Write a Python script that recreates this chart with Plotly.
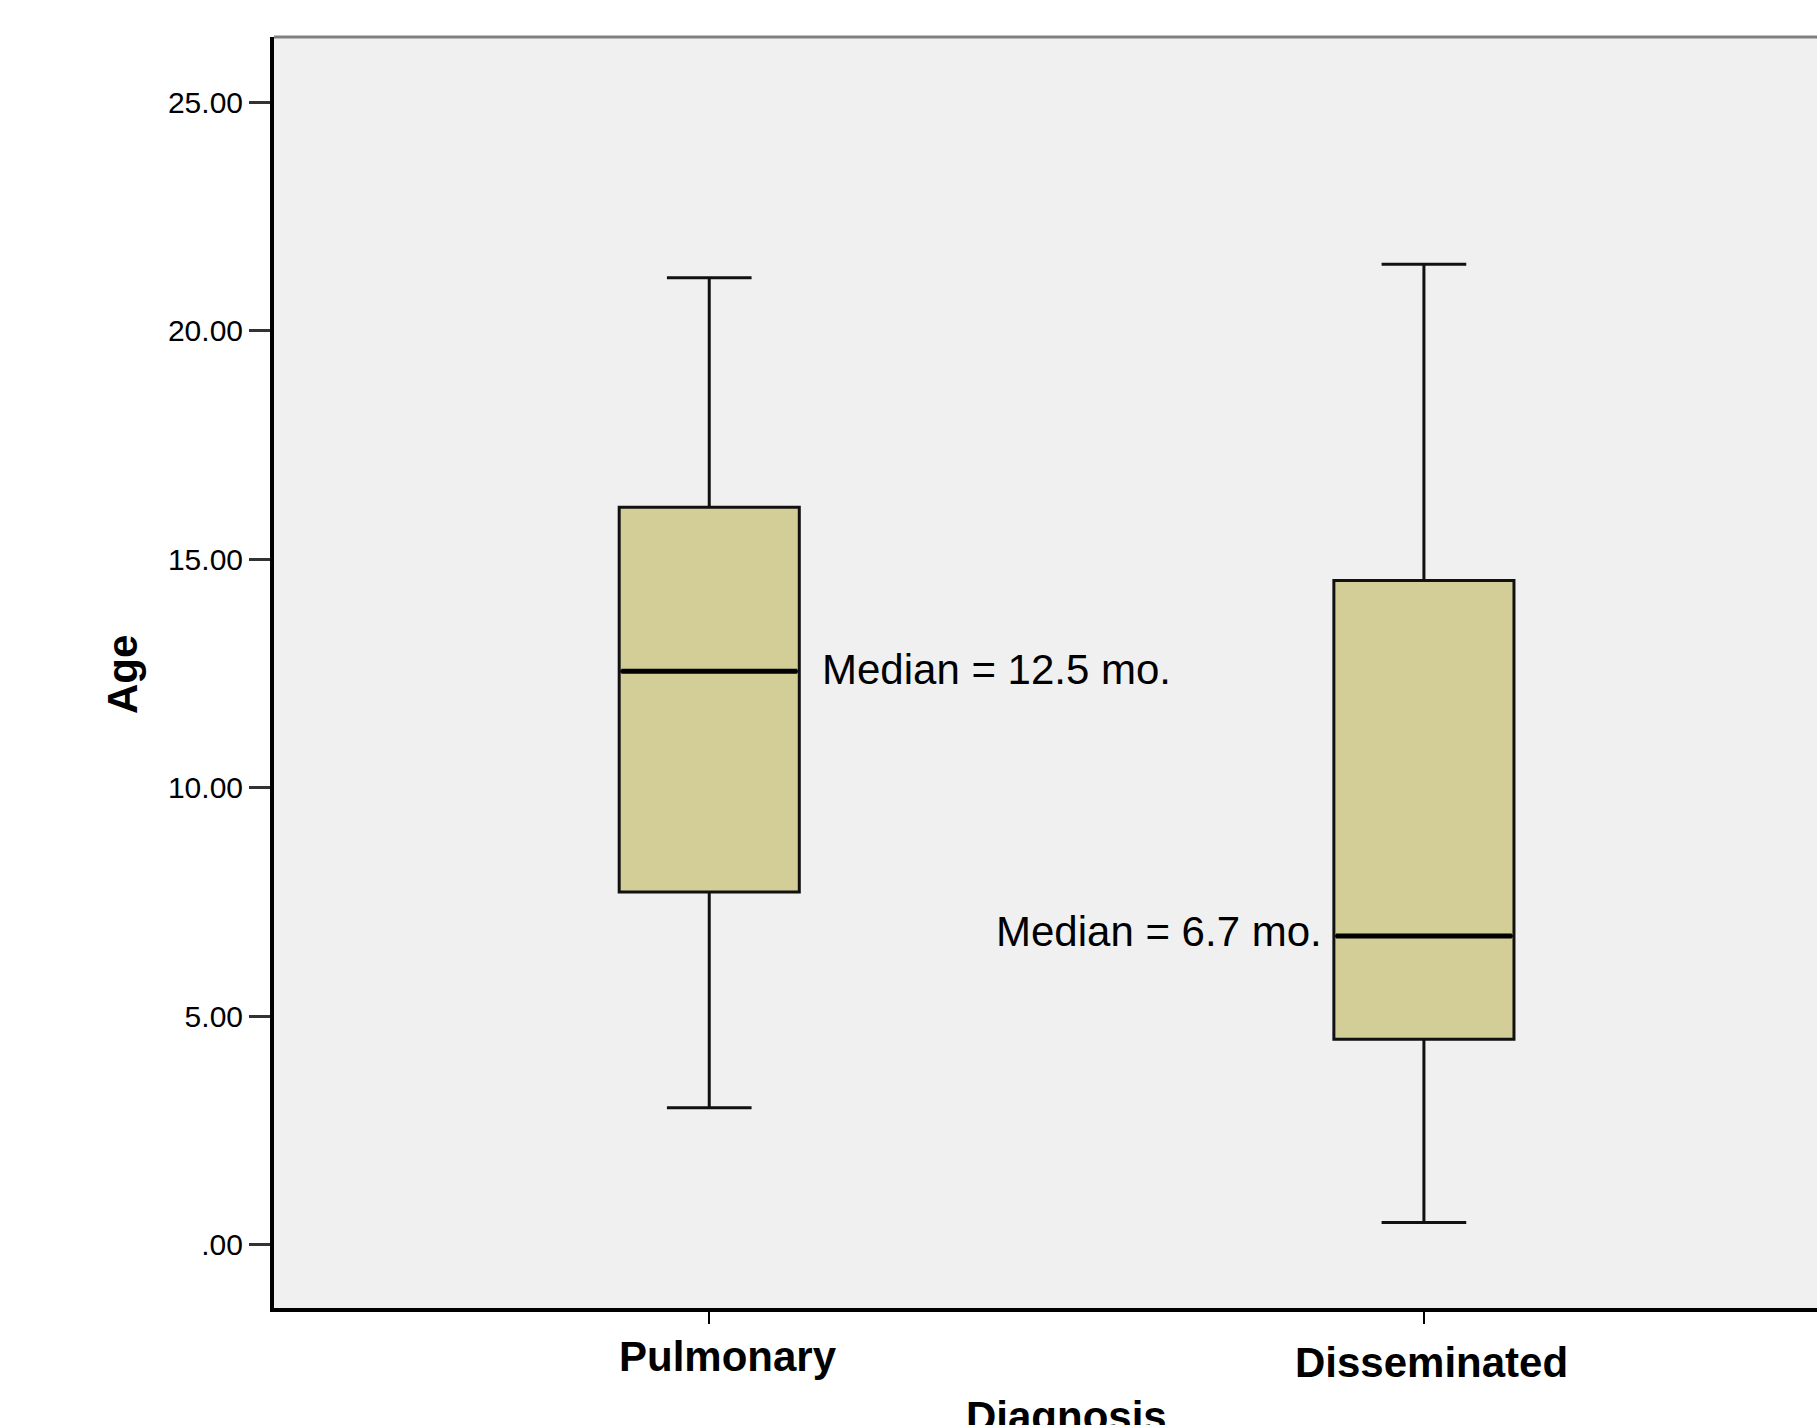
import plotly.graph_objects as go

categories = ["Pulmonary", "Disseminated"]
lower_whisker = [3.0, 0.49]
q1 = [7.72, 4.50]
median = [12.55, 6.76]
q3 = [16.14, 14.54]
upper_whisker = [21.16, 21.46]
median_labels = ["Median = 12.5 mo.", "Median = 6.7 mo."]
y_tickvals = [0, 5, 10, 15, 20, 25]
y_ticktext = [".00", "5.00", "10.00", "15.00", "20.00", "25.00"]

FONT = "Arial, 'Liberation Sans', sans-serif"

fig = go.Figure()
fig.add_trace(go.Box(
    x=categories,
    q1=q1, median=median, q3=q3,
    lowerfence=lower_whisker, upperfence=upper_whisker,
    fillcolor="rgb(211,206,152)",
    line=dict(color="#111111", width=3),
    width=0.252,
    whiskerwidth=0.47,
    boxpoints=False,
    hoverinfo="skip",
    showlegend=False,
))
# thicker median line overlay
fig.add_trace(go.Box(
    x=categories,
    q1=median, median=median, q3=median,
    lowerfence=median, upperfence=median,
    fillcolor="rgba(0,0,0,0)",
    line=dict(color="black", width=5),
    width=0.246,
    whiskerwidth=0,
    boxpoints=False,
    hoverinfo="skip",
    showlegend=False,
))

# median annotations
fig.add_annotation(x=categories[0], y=median[0], text=median_labels[0],
                   xanchor="left", yanchor="middle", xshift=111, yshift=2, showarrow=False,
                   font=dict(family=FONT, size=42, color="black"))
fig.add_annotation(x=categories[1], y=median[1], text=median_labels[1],
                   xanchor="right", yanchor="middle", xshift=-100, yshift=4, showarrow=False,
                   font=dict(family=FONT, size=42, color="black"))

# category labels
cat_shift = [19, 8]
cat_y = [1356, 1362]
for c, dx, yy in zip(categories, cat_shift, cat_y):
    fig.add_annotation(x=c, xshift=dx, yref="paper", y=0, yshift=-(yy - 1308),
                       yanchor="middle", xanchor="center", text=f"<b>{c}</b>",
                       showarrow=False, font=dict(family=FONT, size=42, color="black"))

# axis titles
fig.add_annotation(xref="paper", yref="paper", x=(1066 - 274) / (1817 - 274), y=0,
                   yshift=-(1391 - 1308), yanchor="top", xanchor="center",
                   text="<b>Diagnosis</b>", showarrow=False,
                   font=dict(family=FONT, size=42, color="black"))
fig.add_annotation(xref="paper", yref="paper", x=0, xshift=-(274 - 122), y=(1308 - 675) / (1308 - 37),
                   text="<b>Age</b>", textangle=-90, showarrow=False,
                   xanchor="center", yanchor="middle",
                   font=dict(family=FONT, size=42, color="black"))

# top border (gray)
fig.add_shape(type="line", xref="paper", yref="paper", x0=0, x1=1, y0=1, y1=1,
              line=dict(color="#808080", width=3))

fig.update_layout(
    width=1817, height=1425,
    margin=dict(l=274, r=0, t=37, b=117),
    paper_bgcolor="white",
    plot_bgcolor="#F0F0F0",
    font=dict(family=FONT, color="black"),
    boxmode="overlay",
    xaxis=dict(
        range=[-0.609, 1.55],
        showgrid=False, zeroline=False,
        showline=True, linecolor="black", linewidth=4,
        ticks="outside", ticklen=12, tickwidth=2, tickcolor="black",
        showticklabels=False,
        tickvals=categories,
    ),
    yaxis=dict(
        range=[-1.38, 26.43],
        showgrid=False, zeroline=False,
        showline=True, linecolor="black", linewidth=4,
        ticks="outside", ticklen=21, tickwidth=3, tickcolor="#333333",
        tickvals=y_tickvals, ticktext=y_ticktext,
        tickfont=dict(family=FONT, size=30, color="black"),
    ),
)

fig.write_html("out.html", config={"displayModeBar": False},
               post_script="document.body.style.margin='0';")
